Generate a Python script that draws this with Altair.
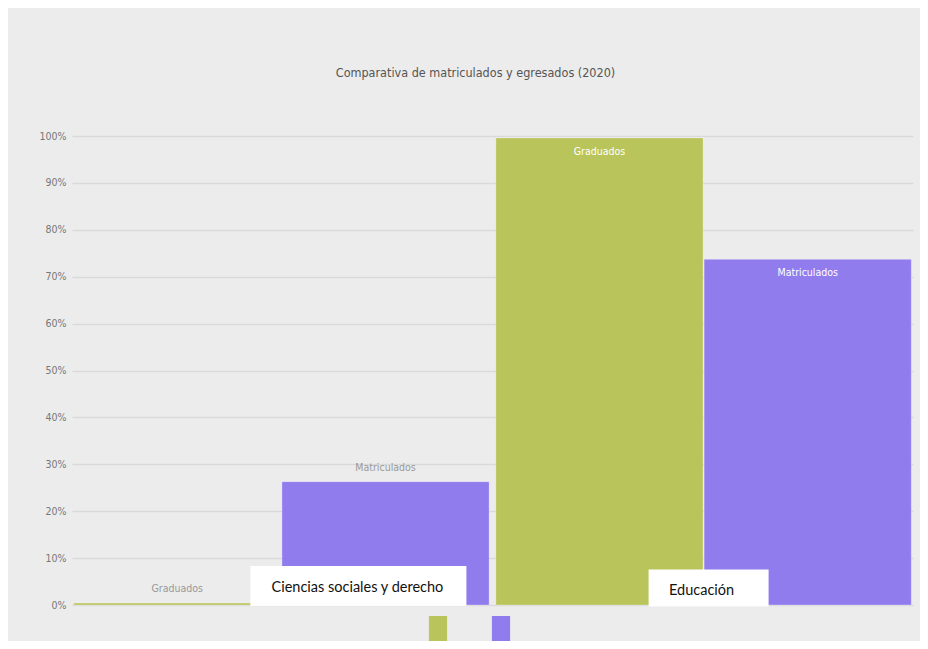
import altair as alt
import pandas as pd

categorias = ["Ciencias sociales y derecho", "Educación"]
series = ["Graduados", "Matriculados"]
graduados = [0.4, 99.6]
matriculados = [26.3, 73.7]
y_ticks = [0, 10, 20, 30, 40, 50, 60, 70, 80, 90, 100]
titulo = "Comparativa de matriculados y egresados (2020)"

rows = []
for i, c in enumerate(categorias):
    rows.append({"cat": c, "serie": "Graduados", "valor": graduados[i]})
    rows.append({"cat": c, "serie": "Matriculados", "valor": matriculados[i]})
df = pd.DataFrame(rows)
lab_df = pd.DataFrame({"cat": categorias})

colors = ["#b9c45a", "#917cee"]
FONT = "DejaVu Sans Condensed, sans-serif"
LFONT = "Lato, Open Sans, sans-serif"

xscale = alt.Scale(domain=categorias, paddingInner=0.016, paddingOuter=0.004)
x = alt.X("cat:N", scale=xscale, axis=None)
xo = alt.XOffset("serie:N", sort=series, scale=alt.Scale(paddingInner=0.005))
y = alt.Y("valor:Q", scale=alt.Scale(domain=[0, 100], nice=False),
          axis=alt.Axis(values=y_ticks, labelExpr="datum.value + '%'", title=None,
                        ticks=False, domain=False, gridColor="#d9d9d9", gridWidth=1.5,
                        labelColor="#777777", labelFont=FONT, labelFontSize=10.5,
                        labelPadding=6))

bars = alt.Chart(df).mark_bar(stroke="#ffffff", strokeWidth=0.6, strokeOpacity=0.5).encode(
    x=x, xOffset=xo, y=y,
    color=alt.Color("serie:N", scale=alt.Scale(domain=series, range=colors),
                    legend=alt.Legend(orient="none", legendX=353, legendY=480,
                                      direction="horizontal", title=None,
                                      symbolType="M-0.7,-1H0.7V1H-0.7Z", symbolSize=676,
                                      symbolStrokeWidth=0, symbolOpacity=1,
                                      labelExpr="''", labelOffset=0, columnPadding=37,
                                      padding=0)),
)

inside = alt.Chart(df).transform_filter("datum.valor > 50").mark_text(
    dy=14, color="#ffffff", font=FONT, fontSize=10.5, baseline="middle").encode(
    x=x, xOffset=xo, y=y, text="serie:N")
above = alt.Chart(df).transform_filter("datum.valor <= 50").mark_text(
    dy=-14, color="#999999", font=FONT, fontSize=10.5, baseline="middle").encode(
    x=x, xOffset=xo, y=y, text="serie:N")

BOX = "M-1,-0.185H1V0.185H-1Z"
box1 = alt.Chart(lab_df).transform_filter(alt.datum.cat == categorias[0]).mark_point(
    shape=BOX, size=216 * 216, filled=True, color="#ffffff", opacity=1, xOffset=77).encode(
    x=x, y=alt.value(450))
txt1 = alt.Chart(lab_df).transform_filter(alt.datum.cat == categorias[0]).mark_text(
    font=LFONT, fontSize=14.5, color="#111111", xOffset=76, baseline="middle").encode(
    x=x, y=alt.value(452), text="cat:N")
box2 = alt.Chart(lab_df).transform_filter(alt.datum.cat == categorias[1]).mark_point(
    shape="M-1,-0.31H1V0.31H-1Z", size=120 * 120, filled=True, color="#ffffff", opacity=1,
    xOffset=5).encode(x=x, y=alt.value(452))
txt2 = alt.Chart(lab_df).transform_filter(alt.datum.cat == categorias[1]).mark_text(
    font=LFONT, fontSize=14.5, color="#111111", xOffset=-2, baseline="middle").encode(
    x=x, y=alt.value(455), text="cat:N")

chart = alt.layer(bars, inside, above, box1, txt1, box2, txt2).properties(
    width=841, height=469,
    title=alt.Title(titulo, font=FONT, fontSize=12.5, color="#555555", fontWeight="normal",
                    anchor="middle", offset=52, dx=-17),
    autosize=alt.AutoSizeParams(type="none"),
    padding={"left": 64, "top": 128, "right": 7, "bottom": 36},
    background="#ececec",
).configure_view(stroke=None)

chart.save("out.html", embed_options={"renderer": "svg", "actions": False})
